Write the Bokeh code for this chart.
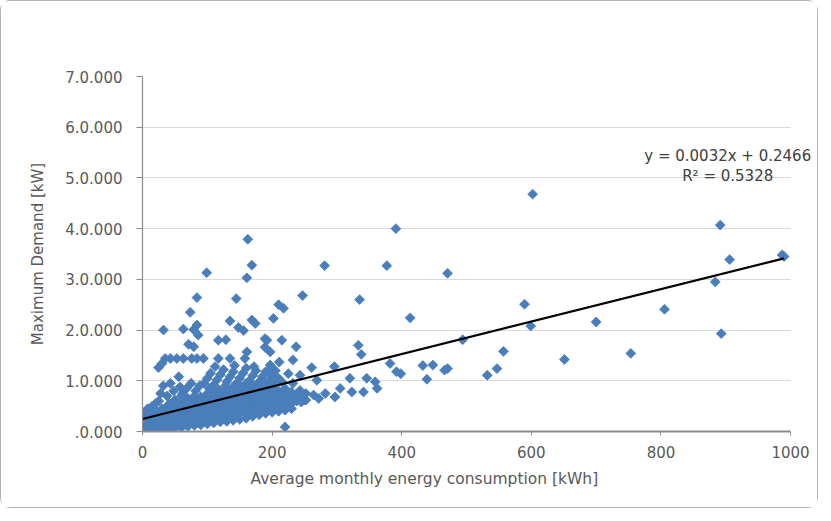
import math
from bokeh.plotting import figure
from bokeh.models import Label, FixedTicker, Range1d, Title
from bokeh.embed import file_html
from bokeh.resources import INLINE

# ---------------- data ----------------
x_ticks = [0, 200, 400, 600, 800, 1000]
y_ticks = [0, 1, 2, 3, 4, 5, 6, 7]
y_tick_labels = [".0.000", "1.0.000", "2.0.000", "3.0.000", "4.0.000",
                 "5.0.000", "6.0.000", "7.0.000"]

# dense band of small consumers (below / around the trend line)
band_points = [
    (2, 0.02), (2, 0.08), (2, 0.15), (3, 0.25),
    (5, 0.05), (5, 0.12), (5, 0.2), (5, 0.3), (6, 0.4),
    (8, 0.03), (8, 0.1), (8, 0.18), (8, 0.45),
    (10, 0.06), (10, 0.14), (10, 0.22), (11, 0.35),
    (14, 0.04), (14, 0.12), (14, 0.2), (14, 0.28), (15, 0.5),
    (18, 0.08), (18, 0.16), (18, 0.25), (18, 0.33),
    (22, 0.05), (22, 0.13), (22, 0.22), (22, 0.3), (22, 0.4),
    (26, 0.1), (26, 0.18), (26, 0.27), (26, 0.36),
    (30, 0.08), (30, 0.15), (30, 0.24), (30, 0.32), (30, 0.45),
    (34, 0.12), (34, 0.2), (34, 0.3), (34, 0.38),
    (38, 0.1), (38, 0.18), (38, 0.26), (38, 0.35), (38, 0.5),
    (40, 0.05), (42, 0.14), (42, 0.22), (42, 0.3), (42, 0.4), (42, 0.55),
    (46, 0.12), (46, 0.2), (46, 0.28), (46, 0.37), (46, 0.48),
    (50, 0.07), (50, 0.16), (50, 0.25), (50, 0.33), (50, 0.42), (50, 0.62),
    (55, 0.15), (55, 0.23), (55, 0.32), (55, 0.4), (55, 0.5),
    (60, 0.08), (60, 0.18), (60, 0.27), (60, 0.35), (60, 0.44), (60, 0.55), (60, 0.7),
    (65, 0.2), (65, 0.28), (65, 0.37), (65, 0.46), (65, 0.58),
    (70, 0.1), (70, 0.18), (70, 0.26), (70, 0.34), (70, 0.43), (70, 0.52), (70, 0.65),
    (75, 0.22), (75, 0.3), (75, 0.39), (75, 0.48), (75, 0.6),
    (80, 0.12), (80, 0.2), (80, 0.28), (80, 0.36), (80, 0.45), (80, 0.55), (80, 0.7),
    (85, 0.24), (85, 0.32), (85, 0.41), (85, 0.5), (85, 0.6),
    (90, 0.13), (90, 0.22), (90, 0.3), (90, 0.38), (90, 0.47), (90, 0.57), (90, 0.68),
    (95, 0.26), (95, 0.34), (95, 0.43), (95, 0.52), (95, 0.62),
    (100, 0.15), (100, 0.25), (100, 0.33), (100, 0.42), (100, 0.5), (100, 0.6), (100, 0.75),
    (105, 0.28), (105, 0.36), (105, 0.45), (105, 0.55), (105, 0.65),
    (110, 0.17), (110, 0.27), (110, 0.35), (110, 0.44), (110, 0.53), (110, 0.63), (110, 0.8),
    (115, 0.3), (115, 0.39), (115, 0.48), (115, 0.58), (115, 0.68),
    (120, 0.19), (120, 0.29), (120, 0.38), (120, 0.47), (120, 0.56), (120, 0.66), (120, 0.78),
    (125, 0.32), (125, 0.41), (125, 0.5), (125, 0.6), (125, 0.7),
    (130, 0.2), (130, 0.31), (130, 0.4), (130, 0.49), (130, 0.58), (130, 0.68), (130, 0.82),
    (135, 0.35), (135, 0.44), (135, 0.53), (135, 0.63), (135, 0.73),
    (140, 0.22), (140, 0.33), (140, 0.42), (140, 0.52), (140, 0.62), (140, 0.72), (140, 0.88),
    (145, 0.37), (145, 0.46), (145, 0.56), (145, 0.66), (145, 0.76),
    (150, 0.24), (150, 0.36), (150, 0.45), (150, 0.55), (150, 0.65), (150, 0.75), (150, 0.9),
    (155, 0.4), (155, 0.5), (155, 0.6), (155, 0.7), (155, 0.8),
    (160, 0.26), (160, 0.38), (160, 0.48), (160, 0.58), (160, 0.68), (160, 0.78), (160, 0.95),
    (165, 0.42), (165, 0.52), (165, 0.62), (165, 0.72), (165, 0.85),
    (170, 0.3), (170, 0.4), (170, 0.5), (170, 0.6), (170, 0.7), (170, 0.8), (170, 0.92),
    (175, 0.45), (175, 0.55), (175, 0.65), (175, 0.75), (175, 0.88),
    (180, 0.33), (180, 0.43), (180, 0.53), (180, 0.63), (180, 0.73), (180, 0.83),
    (185, 0.47), (185, 0.57), (185, 0.67), (185, 0.78), (185, 0.9),
    (190, 0.36), (190, 0.45), (190, 0.55), (190, 0.65), (190, 0.75), (190, 0.85),
    (195, 0.5), (195, 0.6), (195, 0.7), (195, 0.8),
    (200, 0.38), (200, 0.48), (200, 0.58), (200, 0.68), (200, 0.78), (200, 0.9),
    (205, 0.52), (205, 0.62), (205, 0.72), (205, 0.82),
    (210, 0.4), (210, 0.5), (210, 0.6), (210, 0.7), (210, 0.8),
    (215, 0.55), (215, 0.65), (215, 0.75),
    (220, 0.42), (220, 0.52), (220, 0.62), (220, 0.72), (220, 0.85),
    (225, 0.58), (225, 0.68),
    (230, 0.45), (230, 0.55), (230, 0.65), (230, 0.78),
    (238, 0.6), (238, 0.72),
    (245, 0.58), (245, 0.7),
    (252, 0.62), (252, 0.75),
]

# cloud just above the trend line
upper_points = [
    (95, 0.95), (100, 1.05), (105, 1.15), (110, 0.92), (115, 1.02), (120, 1.12),
    (125, 1.22), (130, 0.98), (135, 1.08), (140, 1.18), (145, 0.95), (150, 1.05),
    (155, 1.15), (160, 1.25), (165, 1.0), (170, 1.1), (175, 1.2), (180, 0.98),
    (185, 1.08), (190, 1.18), (195, 1.0), (200, 1.1), (205, 1.2), (112, 1.28),
    (142, 1.3), (172, 1.28), (200, 1.25), (210, 1.05), (128, 0.9), (158, 0.88),
    (188, 0.95), (103, 0.85), (118, 0.82), (195, 1.18), (205, 1.0), (215, 0.98),
    (232, 0.95),
    (20, 0.55), (25, 0.6), (28, 0.75), (32, 0.9), (38, 0.7), (43, 0.95), (48, 0.8),
    (56, 1.08), (58, 0.88), (62, 0.75), (68, 0.85), (75, 0.95), (82, 0.8), (88, 0.9),
]

# scattered points
sparse_points = [
    (162.5, 3.79), (168.7, 3.28), (161, 3.03), (99, 3.13), (84, 2.64), (144.6, 2.62),
    (73.6, 2.35), (135, 2.18), (168.7, 2.2), (174, 2.13), (148, 2.05), (156, 1.99),
    (32.4, 2.0), (63, 2.02), (79, 2.01), (84, 2.1), (86, 1.9), (117, 1.8),
    (128.6, 1.81), (71, 1.72), (79, 1.67), (192, 1.8), (189, 1.66), (161, 1.57),
    (197, 1.57),
    (35, 1.44), (43, 1.44), (53, 1.44), (63, 1.44), (76, 1.44), (84, 1.44),
    (94, 1.44), (117, 1.44), (135, 1.44), (158, 1.44),
    (24.7, 1.26), (30, 1.34),
    (391, 4.0), (281, 3.27), (377, 3.27), (247, 2.68), (210, 2.5), (217.6, 2.43),
    (202, 2.23), (335, 2.6), (189, 1.83), (215, 1.8), (237, 1.67), (333, 1.70),
    (337.5, 1.52), (211, 1.37), (232, 1.41), (197, 1.31), (261, 1.26), (296, 1.28),
    (382, 1.34), (392, 1.18), (225, 1.14), (243, 1.11), (269, 1.01), (320, 1.05),
    (346, 1.05), (359, 0.98), (362, 0.85), (305, 0.85), (323, 0.78), (341, 0.78),
    (282, 0.75), (297, 0.68), (264, 0.72), (272, 0.65), (243, 0.81), (251, 0.62),
    (220, 0.09),
    (602, 4.68), (891.5, 4.07), (470.7, 3.12), (906, 3.39), (987, 3.48), (990, 3.45),
    (883.8, 2.95), (589.5, 2.51), (413, 2.24), (599, 2.08), (700, 2.16), (805.5, 2.41),
    (893, 1.93), (494, 1.81), (557, 1.58), (753.5, 1.54), (651, 1.42), (398.6, 1.14),
    (432.6, 1.30), (448, 1.31), (438.8, 1.03), (466, 1.21), (470.7, 1.24), (532, 1.11),
    (547, 1.24),
]

trend_slope = 0.0032
trend_intercept = 0.2466
equation_text = "y = 0.0032x + 0.2466"
r2_text = "R\u00b2 = 0.5328"
x_title = "Average monthly energy consumption [kWh]"
y_title = "Maximum Demand [kW]"

# ---------------- figure ----------------
FONT = "DejaVu Sans"
TXT = "#595959"
X_MAX = 1000
X_VIEW = 1040   # frame extends a little past the axis end so the equation fits

p = figure(width=818, height=508, x_range=Range1d(0, X_VIEW), y_range=Range1d(0, 7),
           output_backend="svg", toolbar_location=None,
           min_border_left=141, min_border_right=3, min_border_top=75, min_border_bottom=78)
p.styles = {"border": "1.5px solid #b4b4b4", "border-radius": "10px"}
p.outline_line_color = None
p.background_fill_color = "white"
p.border_fill_color = "white"

p.xgrid.visible = False
p.ygrid.grid_line_color = "#d9d9d9"
p.ygrid.grid_line_width = 1.2
if "cross_bounds" in p.ygrid[0].properties():
    p.ygrid.cross_bounds = (0, X_MAX)

all_pts = band_points + upper_points + sparse_points
xs = [pt[0] for pt in all_pts]
ys = [pt[1] for pt in all_pts]
p.scatter(xs, ys, marker="square", angle=math.pi / 4, size=7,
          fill_color="#4A7EBB", line_color="#4A7EBB", line_width=0.8)

x_end = max(xs)
p.line([0, x_end], [trend_intercept, trend_intercept + trend_slope * x_end],
       line_color="black", line_width=2.2)

# axes
p.xaxis.bounds = (0, X_MAX)
p.xaxis.ticker = FixedTicker(ticks=x_ticks)
p.yaxis.ticker = FixedTicker(ticks=y_ticks)
p.yaxis.major_label_overrides = {t: s for t, s in zip(y_ticks, y_tick_labels)}
for ax in (p.xaxis, p.yaxis):
    ax.minor_tick_line_color = None
    ax.major_tick_in = 0
    ax.axis_line_color = "#8c8c8c"
    ax.major_tick_line_color = "#8c8c8c"
    ax.major_label_text_font = FONT
    ax.major_label_text_font_size = "15px"
    ax.major_label_text_color = TXT
p.xaxis.axis_line_width = 1.8
p.yaxis.axis_line_width = 1.2
p.xaxis.major_tick_out = 4
p.yaxis.major_tick_out = 6
p.xaxis.major_label_standoff = 10
p.yaxis.major_label_standoff = 14

p.yaxis.axis_label = y_title
p.yaxis.axis_label_text_font = FONT
p.yaxis.axis_label_text_font_size = "15px"
p.yaxis.axis_label_text_font_style = "normal"
p.yaxis.axis_label_text_color = TXT
p.yaxis.axis_label_standoff = 15

p.add_layout(Title(text=x_title, align="left", offset=108, standoff=15,
                   text_font=FONT, text_font_size="15.5px", text_font_style="normal",
                   text_color=TXT), "below")
p.add_layout(Label(x=903, y=5.44, text=equation_text, text_align="center",
                   text_baseline="middle", text_font=FONT, text_font_size="15px",
                   text_color="#404040"))
p.add_layout(Label(x=903, y=5.03, text=r2_text, text_align="center",
                   text_baseline="middle", text_font=FONT, text_font_size="15px",
                   text_color="#404040"))

open("out.html", "w").write(file_html(p, INLINE))
